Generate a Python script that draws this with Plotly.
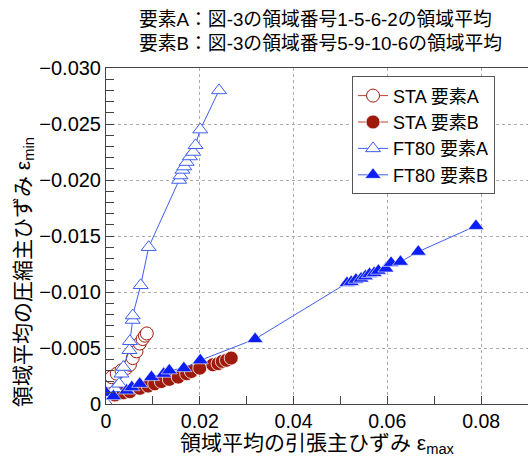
import plotly.graph_objects as go

# STA 要素A (open circles)
sta_a_x = [0.0001, 0.0005, 0.0012, 0.0023, 0.0033, 0.0043, 0.0051, 0.0057, 0.0065, 0.0072, 0.0078, 0.0083, 0.0087]
sta_a_y = [-0.0017, -0.0020, -0.0024, -0.0027, -0.0030, -0.0032, -0.0035, -0.0041, -0.0047, -0.0054, -0.0058, -0.0061, -0.0063]

# STA 要素B (filled circles)
sta_b_x = [0.0019, 0.0037, 0.0051, 0.0072, 0.0090, 0.0104, 0.0118, 0.0135, 0.0154, 0.0172, 0.0182, 0.0200, 0.0228, 0.0239, 0.0248, 0.0257, 0.0267]
sta_b_y = [-0.0008, -0.0010, -0.0011, -0.0014, -0.0016, -0.0018, -0.0020, -0.0022, -0.0024, -0.0027, -0.0029, -0.0032, -0.0035, -0.0036, -0.0038, -0.0039, -0.0041]

# FT80 要素A (open triangles)
ft_a_x = [0.0, 0.0010, 0.0019, 0.0028, 0.0033, 0.0037, 0.0050, 0.0051, 0.0057, 0.0057, 0.0074, 0.0091,
          0.0156, 0.0159, 0.0163, 0.0167, 0.0172, 0.0179, 0.0186, 0.0191, 0.0201, 0.0241]
ft_a_y = [-0.0001, -0.0008, -0.0014, -0.0018, -0.0027, -0.0033, -0.0048, -0.0056, -0.0075, -0.0079, -0.0106, -0.0140,
          -0.0200, -0.0204, -0.0209, -0.0212, -0.0216, -0.0221, -0.0225, -0.0231, -0.0245, -0.0280]

# FT80 要素B (filled triangles)
ft_b_x = [0.0, 0.0016, 0.0044, 0.0055, 0.0072, 0.0097, 0.0123, 0.0135, 0.0166, 0.0201, 0.0318,
          0.0514, 0.0523, 0.0533, 0.0544, 0.0553, 0.0562, 0.0572, 0.0581, 0.0597, 0.0608, 0.0628, 0.0666, 0.0789]
ft_b_y = [-0.0010, -0.0007, -0.0012, -0.0015, -0.0018, -0.0024, -0.0027, -0.0030, -0.0032, -0.0039, -0.0058,
          -0.0108, -0.0109, -0.0111, -0.0112, -0.0114, -0.0116, -0.0117, -0.0119, -0.0121, -0.0126, -0.0127, -0.0136, -0.0159]

x_ticks = [0, 0.02, 0.04, 0.06, 0.08]
x_ticktext = ["0", "0.02", "0.04", "0.06", "0.08"]
y_ticks = [0, -0.005, -0.010, -0.015, -0.020, -0.025, -0.030]
y_ticktext = ["0", "\u22120.005", "\u22120.010", "\u22120.015", "\u22120.020", "\u22120.025", "\u22120.030"]

FONT = "Liberation Sans, Arial, Noto Sans CJK JP, sans-serif"
RED = "#9e1a0c"
BLUE_A = "#3f5ff0"
BLUE_B = "#0a1ef5"

fig = go.Figure()
fig.add_trace(go.Scatter(x=sta_a_x, y=sta_a_y, mode="lines+markers", name="STA 要素A",
                         line=dict(color="#c04030", width=1),
                         marker=dict(symbol="circle", size=13, color="white", line=dict(color=RED, width=1))))
fig.add_trace(go.Scatter(x=sta_b_x, y=sta_b_y, mode="lines+markers", name="STA 要素B",
                         line=dict(color="#c04030", width=1),
                         marker=dict(symbol="circle", size=14, color=RED, line=dict(color="white", width=0.8))))
fig.add_trace(go.Scatter(x=ft_a_x, y=ft_a_y, mode="lines+markers", name="FT80 要素A",
                         line=dict(color=BLUE_A, width=1),
                         marker=dict(symbol="triangle-up", size=13, color="white", line=dict(color=BLUE_A, width=1))))
fig.add_trace(go.Scatter(x=ft_b_x, y=ft_b_y, mode="lines+markers", name="FT80 要素B",
                         line=dict(color=BLUE_A, width=1),
                         marker=dict(symbol="triangle-up", size=14, color=BLUE_B, line=dict(color="white", width=0.6))))

fig.update_layout(
    width=528, height=457,
    margin=dict(l=106, r=0, t=68, b=53),
    paper_bgcolor="white", plot_bgcolor="white",
    font=dict(family=FONT, size=18, color="black"),
    showlegend=True,
    legend=dict(x=0.583, y=0.975, xanchor="left", yanchor="top",
                bordercolor="#555555", borderwidth=1, bgcolor="white",
                font=dict(size=18), tracegroupgap=0, itemwidth=30),
    annotations=[
        dict(text="要素A：図-3の領域番号1-5-6-2の領域平均<br>要素B：図-3の領域番号5-9-10-6の領域平均",
             xref="paper", yref="paper", x=0.5, y=1.0, xanchor="center", yanchor="bottom",
             xshift=3, yshift=12, showarrow=False, align="left", font=dict(size=18.8)),
        dict(text="領域平均の圧縮主ひずみ ε<sub>min</sub>", textangle=-90,
             xref="paper", yref="paper", x=0, y=0.5, xanchor="center", yanchor="middle",
             xshift=-82, yshift=-36, showarrow=False, font=dict(size=21)),
    ],
)
fig.update_xaxes(range=[0, 0.09], tickvals=x_ticks, ticktext=x_ticktext,
                 showline=True, linecolor="#444444", linewidth=1, mirror=True,
                 ticks="inside", ticklen=8, tickcolor="#444444",
                 minor=dict(dtick=0.01, ticks="inside", ticklen=8, tickcolor="#444444", showgrid=False),
                 showgrid=True, gridcolor="#aaaaaa", griddash="dot", gridwidth=1,
                 zeroline=False, tickfont=dict(size=19.5),
                 title=dict(text="領域平均の引張主ひずみ ε<sub>max</sub>", font=dict(size=21), standoff=0))
fig.update_yaxes(range=[0, -0.030], tickvals=y_ticks, ticktext=y_ticktext,
                 showline=True, linecolor="#444444", linewidth=1, mirror=True,
                 ticks="inside", ticklen=8, tickcolor="#444444",
                 minor=dict(tick0=0, dtick=0.001, ticks="inside", ticklen=8, tickcolor="#444444", showgrid=False),
                 showgrid=True, gridcolor="#aaaaaa", griddash="dot", gridwidth=1,
                 zeroline=False, tickfont=dict(size=20))

fig.write_html("out.html")
